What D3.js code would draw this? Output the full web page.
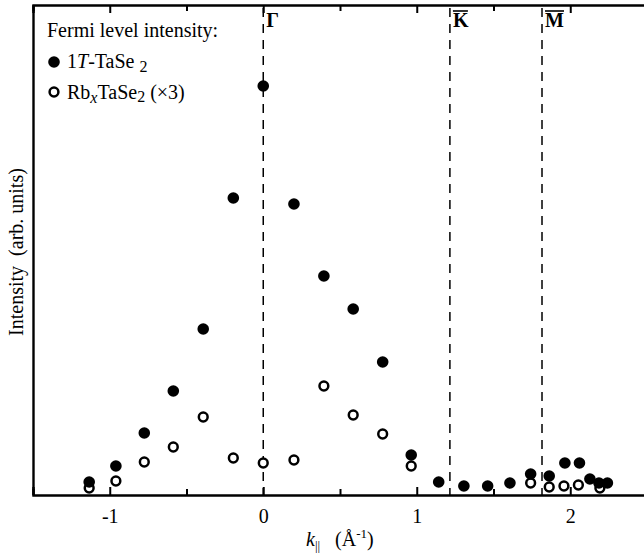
<!DOCTYPE html>
<html><head><meta charset="utf-8">
<script src="https://cdn.jsdelivr.net/npm/d3@7"></script>
<style>
html,body{margin:0;padding:0;background:#fff;}
svg{display:block;}
text{font-family:"Liberation Serif","Times New Roman",serif;fill:#000;white-space:pre;}
</style></head>
<body>
<svg id="chart" width="644" height="553"></svg>
<script>
// k-parallel positions (1/Angstrom)
const kFilled = [-1.134,-0.960,-0.775,-0.586,-0.391,-0.195,0.000,0.200,0.395,0.586,0.778,0.964,1.143,1.307,1.462,1.607,1.742,1.863,1.965,2.060,2.128,2.187,2.242];
const iFilled = [13,29,62,104,166,297,409,291,219,186,133,40,13,9,9,12,21,19,32,32,16,12,12];
const kOpen = [-1.134,-0.960,-0.775,-0.586,-0.391,-0.195,0.000,0.200,0.395,0.586,0.778,0.964,1.742,1.863,1.959,2.053,2.193];
const iOpen = [7,14,33,48,78,37,32,35,109,80,61,29,12,8,9,10,7];
const xTicks = [-1,0,1,2];
const xMinorTicks = [-1.5,-0.5,0.5,1.5,2.5];
const symPoints = [{k:0,label:"Γ"},{k:1.216,label:"K"},{k:1.816,label:"M"}];

(function(){
const svg = d3.select("#chart");
const x = d3.scaleLinear().domain([-1.5,2.5]).range([33,647]);
const y = d3.scaleLinear().domain([0,490]).range([495,5]);

// dashed symmetry lines
svg.selectAll("line.sym").data(symPoints).enter().append("line")
  .attr("x1",d=>x(d.k)).attr("x2",d=>x(d.k))
  .attr("y1",y(487)).attr("y2",y(0))
  .attr("stroke","#000").attr("stroke-width",1.5).attr("stroke-dasharray","9,7");

// symmetry labels
const symG = svg.selectAll("g.symlab").data(symPoints).enter().append("g");
symG.append("text").attr("x",d=>x(d.k)+3).attr("y",27)
  .attr("font-size",20).attr("font-weight","bold").text(d=>d.label);
symG.filter(d=>d.label!=="Γ").append("line")
  .attr("x1",d=>x(d.k)+3).attr("x2",d=>x(d.k)+(d.label==="M"?22:18))
  .attr("y1",11).attr("y2",11).attr("stroke","#000").attr("stroke-width",1.6);

// axes
const gBottom = svg.append("g").attr("transform",`translate(0,${y(0)})`)
  .call(d3.axisBottom(x).tickValues(xTicks).tickSize(-8).tickPadding(14).tickFormat(d3.format("d")));
const gBottomMinor = svg.append("g").attr("transform",`translate(0,${y(0)})`)
  .call(d3.axisBottom(x).tickValues(xMinorTicks).tickSize(-6).tickFormat(""));
const gTop = svg.append("g").attr("transform",`translate(0,${y(490)})`)
  .call(d3.axisTop(x).tickValues(xTicks).tickSize(-8).tickFormat(""));
const gTopMinor = svg.append("g").attr("transform",`translate(0,${y(490)})`)
  .call(d3.axisTop(x).tickValues(xMinorTicks).tickSize(-6).tickFormat(""));
const gLeft = svg.append("g").attr("transform",`translate(${x(-1.5)},0)`)
  .call(d3.axisLeft(y).tickValues([]).tickSizeOuter(0));
[gBottom,gBottomMinor,gTop,gTopMinor,gLeft].forEach(g=>{
  g.select(".domain").attr("stroke-width",2.4);
  g.selectAll(".tick line").attr("stroke-width",2);
});
[gBottomMinor,gTopMinor].forEach(g=>g.select(".domain").remove());
gBottom.selectAll(".tick text").attr("font-size",20)
  .attr("font-family","'Liberation Serif',serif").text(d=>d<0?"-"+Math.abs(d):d);

// data points
svg.selectAll("circle.open").data(kOpen.map((k,i)=>({k,v:iOpen[i]}))).enter().append("circle")
  .attr("cx",d=>x(d.k)).attr("cy",d=>y(d.v)).attr("r",4.4)
  .attr("fill","#fff").attr("stroke","#000").attr("stroke-width",2.5);
svg.selectAll("circle.filled").data(kFilled.map((k,i)=>({k,v:iFilled[i]}))).enter().append("circle")
  .attr("cx",d=>x(d.k)).attr("cy",d=>y(d.v)).attr("r",5.8).attr("fill","#000");

// legend
svg.append("text").attr("x",47).attr("y",37).attr("font-size",20).text("Fermi level intensity:");
svg.append("circle").attr("cx",54).attr("cy",62).attr("r",5.8).attr("fill","#000");
const t1 = svg.append("text").attr("x",67).attr("y",68).attr("font-size",20);
t1.append("tspan").text("1");
t1.append("tspan").attr("font-style","italic").text("T");
t1.append("tspan").text("-TaSe ");
t1.append("tspan").attr("dy",4).attr("font-size",16).text("2");
svg.append("circle").attr("cx",54).attr("cy",92).attr("r",4.4)
  .attr("fill","#fff").attr("stroke","#000").attr("stroke-width",2.5);
const t2 = svg.append("text").attr("x",67).attr("y",99).attr("font-size",20);
t2.append("tspan").text("Rb");
t2.append("tspan").attr("dy",4).attr("font-size",16).attr("font-style","italic").text("x");
t2.append("tspan").attr("dy",-4).text("TaSe");
t2.append("tspan").attr("dy",3).attr("font-size",16).text("2");
t2.append("tspan").attr("dy",-3).text(" (×3)");

// axis titles
svg.append("text").attr("transform","translate(23,252) rotate(-90)")
  .attr("text-anchor","middle").attr("font-size",20).text("Intensity  (arb. units)");
const xt = svg.append("text").attr("x",306).attr("y",546).attr("font-size",20);
xt.append("tspan").attr("font-style","italic").text("k");
xt.append("tspan").attr("dy",4).attr("font-size",13).text("||");
xt.append("tspan").attr("dy",-4).text("   (Å");
xt.append("tspan").attr("dy",-8).attr("font-size",13).text("-1");
xt.append("tspan").attr("dy",8).text(")");
})();
</script>
</body></html>
